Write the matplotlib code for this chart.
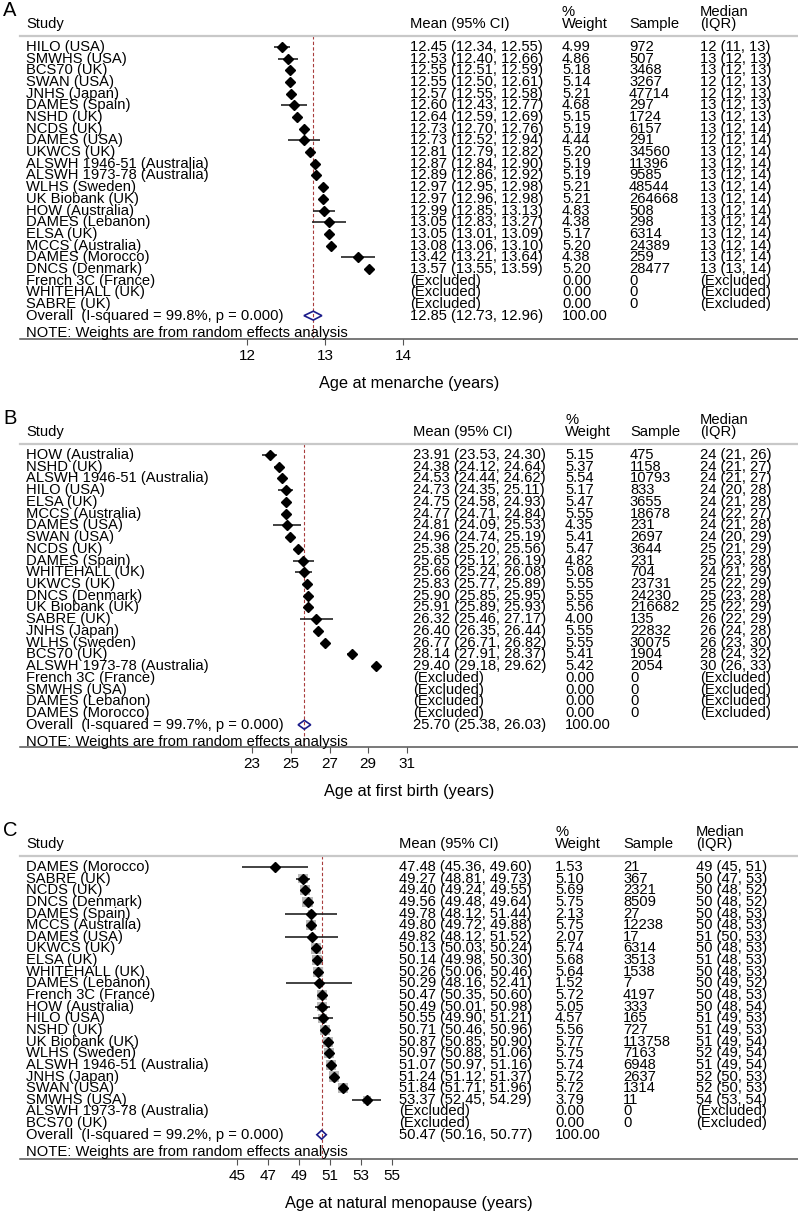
import numpy as np
import matplotlib
matplotlib.use("Agg")
import matplotlib.pyplot as plt
from matplotlib import transforms
from matplotlib.patches import Polygon

plt.rcParams["font.family"] = ["Liberation Sans", "DejaVu Sans"]

W, H = 798, 1211
nan = np.nan
EXC = "(Excluded)"

# ---------------- A: age at menarche ----------------
studies_a = ["HILO (USA)", "SMWHS (USA)", "BCS70 (UK)", "SWAN (USA)", "JNHS (Japan)",
             "DAMES (Spain)", "NSHD (UK)", "NCDS (UK)", "DAMES (USA)", "UKWCS (UK)",
             "ALSWH 1946-51 (Australia)", "ALSWH 1973-78 (Australia)", "WLHS (Sweden)",
             "UK Biobank (UK)", "HOW (Australia)", "DAMES (Lebanon)", "ELSA (UK)",
             "MCCS (Australia)", "DAMES (Morocco)", "DNCS (Denmark)", "French 3C (France)",
             "WHITEHALL (UK)", "SABRE (UK)"]
mean_a = [12.45, 12.53, 12.55, 12.55, 12.57, 12.60, 12.64, 12.73, 12.73, 12.81, 12.87, 12.89,
          12.97, 12.97, 12.99, 13.05, 13.05, 13.08, 13.42, 13.57, nan, nan, nan]
lo_a = [12.34, 12.40, 12.51, 12.50, 12.55, 12.43, 12.59, 12.70, 12.52, 12.79, 12.84, 12.86,
        12.95, 12.96, 12.85, 12.83, 13.01, 13.06, 13.21, 13.55, nan, nan, nan]
hi_a = [12.55, 12.66, 12.59, 12.61, 12.58, 12.77, 12.69, 12.76, 12.94, 12.82, 12.90, 12.92,
        12.98, 12.98, 13.13, 13.27, 13.09, 13.10, 13.64, 13.59, nan, nan, nan]
weight_a = [4.99, 4.86, 5.18, 5.14, 5.21, 4.68, 5.15, 5.19, 4.44, 5.20, 5.19, 5.19, 5.21, 5.21,
            4.83, 4.38, 5.17, 5.20, 4.38, 5.20, 0, 0, 0]
sample_a = [972, 507, 3468, 3267, 47714, 297, 1724, 6157, 291, 34560, 11396, 9585, 48544,
            264668, 508, 298, 6314, 24389, 259, 28477, 0, 0, 0]
median_a = ["12 (11, 13)", "13 (12, 13)", "13 (12, 13)", "12 (12, 13)", "12 (12, 13)",
            "13 (12, 13)", "13 (12, 13)", "13 (12, 14)", "12 (12, 14)", "13 (12, 14)",
            "13 (12, 14)", "13 (12, 14)", "13 (12, 14)", "13 (12, 14)", "13 (12, 14)",
            "13 (12, 14)", "13 (12, 14)", "13 (12, 14)", "13 (12, 14)", "13 (13, 14)",
            EXC, EXC, EXC]
overall_a = [12.85, 12.73, 12.96]
isq_a = "99.8%"
ticks_a = [12, 13, 14]

# ---------------- B: age at first birth ----------------
studies_b = ["HOW (Australia)", "NSHD (UK)", "ALSWH 1946-51 (Australia)", "HILO (USA)", "ELSA (UK)",
             "MCCS (Australia)", "DAMES (USA)", "SWAN (USA)", "NCDS (UK)", "DAMES (Spain)",
             "WHITEHALL (UK)", "UKWCS (UK)", "DNCS (Denmark)", "UK Biobank (UK)", "SABRE (UK)",
             "JNHS (Japan)", "WLHS (Sweden)", "BCS70 (UK)", "ALSWH 1973-78 (Australia)",
             "French 3C (France)", "SMWHS (USA)", "DAMES (Lebanon)", "DAMES (Morocco)"]
mean_b = [23.91, 24.38, 24.53, 24.73, 24.75, 24.77, 24.81, 24.96, 25.38, 25.65, 25.66, 25.83,
          25.90, 25.91, 26.32, 26.40, 26.77, 28.14, 29.40, nan, nan, nan, nan]
lo_b = [23.53, 24.12, 24.44, 24.35, 24.58, 24.71, 24.09, 24.74, 25.20, 25.12, 25.24, 25.77,
        25.85, 25.89, 25.46, 26.35, 26.71, 27.91, 29.18, nan, nan, nan, nan]
hi_b = [24.30, 24.64, 24.62, 25.11, 24.93, 24.84, 25.53, 25.19, 25.56, 26.19, 26.08, 25.89,
        25.95, 25.93, 27.17, 26.44, 26.82, 28.37, 29.62, nan, nan, nan, nan]
weight_b = [5.15, 5.37, 5.54, 5.17, 5.47, 5.55, 4.35, 5.41, 5.47, 4.82, 5.08, 5.55, 5.55, 5.56,
            4.00, 5.55, 5.55, 5.41, 5.42, 0, 0, 0, 0]
sample_b = [475, 1158, 10793, 833, 3655, 18678, 231, 2697, 3644, 231, 704, 23731, 24230, 216682,
            135, 22832, 30075, 1904, 2054, 0, 0, 0, 0]
median_b = ["24 (21, 26)", "24 (21, 27)", "24 (21, 27)", "24 (20, 28)", "24 (21, 28)",
            "24 (22, 27)", "24 (21, 28)", "24 (20, 29)", "25 (21, 29)", "25 (23, 28)",
            "24 (21, 29)", "25 (22, 29)", "25 (23, 28)", "25 (22, 29)", "26 (22, 29)",
            "26 (24, 28)", "26 (23, 30)", "28 (24, 32)", "30 (26, 33)", EXC, EXC, EXC, EXC]
overall_b = [25.70, 25.38, 26.03]
isq_b = "99.7%"
ticks_b = [23, 25, 27, 29, 31]

# ---------------- C: age at natural menopause ----------------
studies_c = ["DAMES (Morocco)", "SABRE (UK)", "NCDS (UK)", "DNCS (Denmark)", "DAMES (Spain)",
             "MCCS (Australia)", "DAMES (USA)", "UKWCS (UK)", "ELSA (UK)", "WHITEHALL (UK)",
             "DAMES (Lebanon)", "French 3C (France)", "HOW (Australia)", "HILO (USA)", "NSHD (UK)",
             "UK Biobank (UK)", "WLHS (Sweden)", "ALSWH 1946-51 (Australia)", "JNHS (Japan)",
             "SWAN (USA)", "SMWHS (USA)", "ALSWH 1973-78 (Australia)", "BCS70 (UK)"]
mean_c = [47.48, 49.27, 49.40, 49.56, 49.78, 49.80, 49.82, 50.13, 50.14, 50.26, 50.29, 50.47,
          50.49, 50.55, 50.71, 50.87, 50.97, 51.07, 51.24, 51.84, 53.37, nan, nan]
lo_c = [45.36, 48.81, 49.24, 49.48, 48.12, 49.72, 48.12, 50.03, 49.98, 50.06, 48.16, 50.35,
        50.01, 49.90, 50.46, 50.85, 50.88, 50.97, 51.12, 51.71, 52.45, nan, nan]
hi_c = [49.60, 49.73, 49.55, 49.64, 51.44, 49.88, 51.52, 50.24, 50.30, 50.46, 52.41, 50.60,
        50.98, 51.21, 50.96, 50.90, 51.06, 51.16, 51.37, 51.96, 54.29, nan, nan]
weight_c = [1.53, 5.10, 5.69, 5.75, 2.13, 5.75, 2.07, 5.74, 5.68, 5.64, 1.52, 5.72, 5.05, 4.57,
            5.56, 5.77, 5.75, 5.74, 5.72, 5.72, 3.79, 0, 0]
sample_c = [21, 367, 2321, 8509, 27, 12238, 17, 6314, 3513, 1538, 7, 4197, 333, 165, 727,
            113758, 7163, 6948, 2637, 1314, 11, 0, 0]
median_c = ["49 (45, 51)", "50 (47, 53)", "50 (48, 52)", "50 (48, 52)", "50 (48, 53)",
            "50 (48, 53)", "51 (50, 53)", "50 (48, 53)", "51 (48, 53)", "50 (48, 53)",
            "50 (49, 52)", "50 (48, 53)", "50 (48, 54)", "51 (49, 53)", "51 (49, 53)",
            "51 (49, 54)", "52 (49, 54)", "51 (49, 54)", "52 (50, 53)", "52 (50, 53)",
            "54 (53, 54)", EXC, EXC]
overall_c = [50.47, 50.16, 50.77]
isq_c = "99.2%"
ticks_c = [45, 47, 49, 51, 53, 55]

fig = plt.figure(figsize=(W / 100, H / 100), dpi=100)
FS = 10.6


def panel(letter, studies, mean, lo, hi, weight, sample, median, overall, isq, ticks, xlabel,
          top_px, row0_px, step, axis_px, tick_px, cols, show_boxes):
    """one forest plot; positions are given in pixels of the final image"""
    x_left, x_right = 20, 798
    ax = fig.add_axes([x_left / W, 1 - axis_px / H, (x_right - x_left) / W, (axis_px - top_px) / H])
    # x scale from two tick positions
    (v0, p0), (v1, p1) = tick_px
    sc = (p1 - p0) / (v1 - v0)
    ax.set_xlim(v0 - (p0 - x_left) / sc, v0 + (x_right - p0) / sc)
    ax.set_ylim((axis_px - row0_px) / step, -(row0_px - top_px) / step)

    n = len(studies)
    rows = np.arange(n)
    mean = np.array(mean, float)
    lo = np.array(lo, float)
    hi = np.array(hi, float)
    w = np.array(weight, float)
    ok = ~np.isnan(mean)

    ax.axvline(overall[0], color="#a83c3c", ls=(0, (3, 2)), lw=0.8, zorder=1)
    if show_boxes:
        side_pt = 4.2 * np.sqrt(w[ok]) * 0.72
        ax.scatter(mean[ok], rows[ok], marker="s", s=side_pt ** 2, color="#b8b8b8",
                   linewidths=0, zorder=2)
    ax.hlines(rows[ok], lo[ok], hi[ok], color="#222222", lw=1.2, zorder=3)
    ax.plot(mean[ok], rows[ok], "D", color="black", markersize=5, zorder=4)

    r = n
    dh = 0.38
    ax.add_patch(Polygon([(overall[1], r), (overall[0], r - dh), (overall[2], r), (overall[0], r + dh)],
                         closed=True, fill=False, edgecolor="#1c1c8a", lw=1.2, zorder=4))

    # text columns
    tr = transforms.blended_transform_factory(fig.transFigure, ax.transData)
    xs, xm, xw, xn, xq = [c / W for c in cols]
    for i in range(n):
        ax.text(xs, i, studies[i], transform=tr, va="center", fontsize=FS)
        if ok[i]:
            txt = f"{mean[i]:.2f} ({lo[i]:.2f}, {hi[i]:.2f})"
        else:
            txt = EXC
        ax.text(xm, i, txt, transform=tr, va="center", fontsize=FS)
        ax.text(xw, i, f"{w[i]:.2f}", transform=tr, va="center", fontsize=FS)
        ax.text(xn, i, f"{sample[i]}", transform=tr, va="center", fontsize=FS)
        ax.text(xq, i, median[i], transform=tr, va="center", fontsize=FS)
    ax.text(xs, r, f"Overall  (I-squared = {isq}, p = 0.000)", transform=tr, va="center", fontsize=FS)
    ax.text(xm, r, f"{overall[0]:.2f} ({overall[1]:.2f}, {overall[2]:.2f})", transform=tr,
            va="center", fontsize=FS)
    ax.text(xw, r, "100.00", transform=tr, va="center", fontsize=FS)
    ax.text(xs, r + 1.45, "NOTE: Weights are from random effects analysis", transform=tr,
            va="center", fontsize=FS)

    # headers
    y1 = 1 - (top_px - 12) / H
    y0 = 1 - (top_px - 24) / H
    fig.text(3 / W, 1 - (top_px - 26) / H, letter, fontsize=14.5, va="center")
    fig.text(xs, y1, "Study", va="center", fontsize=FS)
    fig.text(xm, y1, "Mean (95% CI)", va="center", fontsize=FS)
    fig.text(xw, y0, "%", va="center", fontsize=FS)
    fig.text(xw, y1, "Weight", va="center", fontsize=FS)
    fig.text(xn, y1, "Sample", va="center", fontsize=FS)
    fig.text(xq, y0, "Median", va="center", fontsize=FS)
    fig.text(xq, y1, "(IQR)", va="center", fontsize=FS)

    for s in ["left", "right"]:
        ax.spines[s].set_visible(False)
    ax.spines["top"].set_color("#c8c8c8")
    ax.spines["top"].set_linewidth(1.6)
    ax.spines["bottom"].set_color("#555555")
    ax.spines["bottom"].set_linewidth(1.1)
    ax.set_yticks([])
    ax.set_xticks(ticks)
    ax.tick_params(axis="x", direction="out", length=4, width=0.8, color="#555555",
                   labelsize=11, pad=3.5)
    ax.set_xlabel(xlabel, fontsize=11.8, labelpad=9)
    ax.patch.set_alpha(0)


panel("A", studies_a, mean_a, lo_a, hi_a, weight_a, sample_a, median_a, overall_a, isq_a, ticks_a,
      "Age at menarche (years)", 36, 47, 11.68, 339, [(12, 247), (14, 403)],
      [26, 410, 562, 629, 700], False)
panel("B", studies_b, mean_b, lo_b, hi_b, weight_b, sample_b, median_b, overall_b, isq_b, ticks_b,
      "Age at first birth (years)", 444, 455, 11.73, 747, [(23, 252), (31, 407)],
      [26, 413, 565, 630, 700], False)
panel("C", studies_c, mean_c, lo_c, hi_c, weight_c, sample_c, median_c, overall_c, isq_c, ticks_c,
      "Age at natural menopause (years)", 856, 867, 11.64, 1159, [(45, 236.7), (55, 392)],
      [26, 399, 555, 623, 696], True)

fig.savefig("out.png", dpi=100)
